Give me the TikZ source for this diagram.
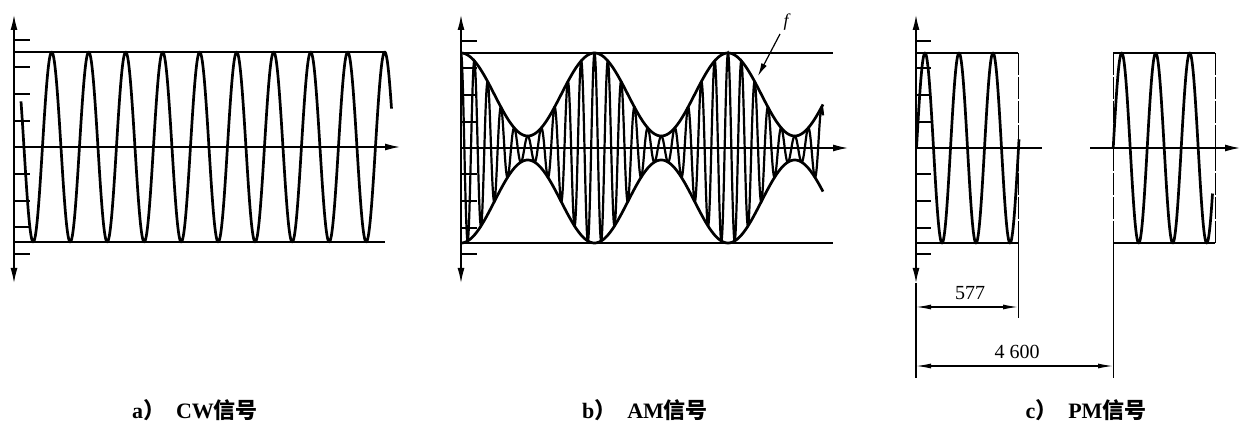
\documentclass[tikz,border=0pt]{standalone}
\usepackage{fontspec}
\setmainfont{Liberation Serif}
\newfontfamily\cjk{Noto Sans CJK SC}
\usetikzlibrary{arrows.meta}
\tikzset{
  thinline/.style={line width=1.4pt},
  wave/.style={line width=2.7pt, line join=round},
  amwave/.style={line width=2.2pt, line join=miter},
  axisarrow/.style={line width=1.4pt, -{Latex[length=15pt,width=7pt]}},
  dimarrow/.style={line width=1.2pt, {Latex[length=15pt,width=5pt]}-{Latex[length=15pt,width=5pt]}},
  tick/.style={line width=1.4pt},
  edge/.style={line width=0.9pt, dash pattern=on 22pt off 2pt},
  caption/.style={font=\fontsize{22}{24}\selectfont\bfseries, inner sep=0pt},
  dimtext/.style={font=\fontsize{20}{22}\selectfont, inner sep=0pt},
}
\begin{document}
\begin{tikzpicture}[x=1pt,y=-1pt]
\useasboundingbox (0,0) rectangle (1241,427);
\fill[white] (0,0) rectangle (1241,427);

% ================= Panel a (CW) =================
\coordinate (ao) at (14,147);
\draw[axisarrow] (ao) -- (14,15);
\draw[axisarrow] (ao) -- (14,283);
\draw[axisarrow] (ao) -- (400,147);
\draw[thinline] (14,52) -- (385,52);
\draw[thinline] (14,242) -- (385,242);
\foreach \t in {40,67,94,121,174,201,227,254}
  \draw[tick] (14,\t) -- (30,\t);
\draw[wave] plot[domain=21:391.5, samples=600, smooth] (\x,{147-95*cos(9.72973*(\x-51.7))});

% ================= Panel b (AM) =================
\coordinate (bo) at (461,148);
\draw[axisarrow] (bo) -- (461,15);
\draw[axisarrow] (bo) -- (461,283);
\draw[axisarrow] (bo) -- (848,148);
\draw[thinline] (461,53) -- (833,53);
\draw[thinline] (461,243) -- (833,243);
\foreach \t in {41,68,95,122,174,201,228,254}
  \draw[tick] (461,\t) -- (477,\t);
\draw[amwave] plot[domain=461:823, samples=1800] (\x,{148-(53.5+41.5*cos(2.696629*(\x-461)))*cos(26.96629*(\x-461))});
\draw[wave] plot[domain=461:823, samples=300, smooth] (\x,{148-(53.5+41.5*cos(2.696629*(\x-461)))});
\draw[wave] plot[domain=461:823, samples=300, smooth] (\x,{148+(53.5+41.5*cos(2.696629*(\x-461)))});
\node[font=\itshape\fontsize{18}{20}\selectfont, inner sep=0pt] (flabel) at (786,22) {f};
\coordinate (ftip) at (758,76);
\draw[line width=1.2pt, -{Latex[length=13pt,width=6pt]}] (780,34) -- (ftip);

% ================= Panel c (PM) =================
\coordinate (co) at (916,148);
\draw[axisarrow] (co) -- (916,15);
\draw[axisarrow] (co) -- (916,283);
\draw[thinline] (916,283) -- (916,378);
\draw[thinline] (916,148) -- (1042,148);
\draw[axisarrow] (1090,148) -- (1240,148);
\foreach \t in {41,68,95,122,174,201,228,254}
  \draw[tick] (916,\t) -- (931,\t);
% box 1
\draw[thinline] (916,53) -- (1018,53);
\draw[thinline] (916,243) -- (1018,243);
\draw[edge] (1018,53) -- (1018,243);
\draw[line width=1pt] (1018,243) -- (1018,318);
% box 2
\draw[thinline] (1113,53) -- (1215,53);
\draw[thinline] (1113,243) -- (1215,243);
\draw[edge] (1113,53) -- (1113,243);
\draw[line width=1pt] (1113,243) -- (1113,378);
\draw[edge] (1215,53) -- (1215,243);
% waves
\draw[wave] plot[domain=916.5:1019, samples=300, smooth] (\x,{148-95*cos(10.588235*(\x-925))});
\draw[wave] plot[domain=1113.2:1212.5, samples=300, smooth] (\x,{148-95*cos(10.588235*(\x-1121.7))});
% dimensions
\coordinate (d1a) at (916,307);
\coordinate (d1b) at (1018,307);
\coordinate (d2a) at (916,366);
\coordinate (d2b) at (1113,366);
\draw[dimarrow] (d1a) -- (d1b);
\draw[dimarrow] (d2a) -- (d2b);
\node[dimtext] (n577) at (970,293) {577};
\node[dimtext] (n4600) at (1017,352) {4 600};

% ================= Captions =================
\node[caption] (capa) at (195,410) {a{\cjk ）}\ \ CW{\cjk 信号}};
\node[caption] (capb) at (645,410) {b{\cjk ）}\ \ AM{\cjk 信号}};
\node[caption] (capc) at (1086,410) {c{\cjk ）}\ \ PM{\cjk 信号}};
\end{tikzpicture}
\end{document}
